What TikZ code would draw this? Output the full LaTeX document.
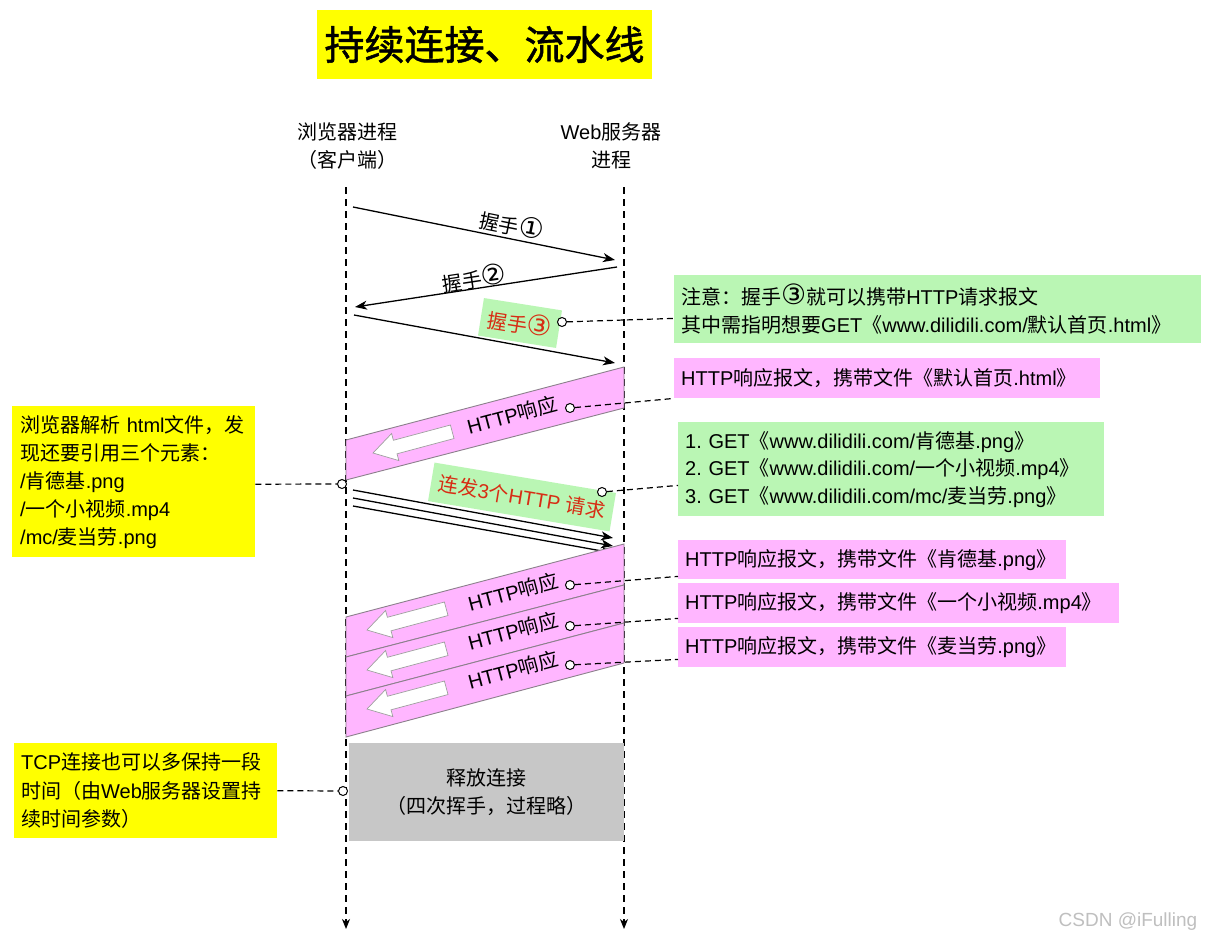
\documentclass[tikz,border=0pt]{standalone}
\usepackage{fontspec}
\setmainfont{Liberation Sans}
\newfontfamily\latinfont{Liberation Sans}
\newfontfamily\cjkfont{Noto Sans CJK SC}
\newfontfamily\cjkbold[FakeBold=1.3]{Noto Sans CJK SC}
\newfontfamily\circfont[Scale=1.4]{DejaVu Sans}
\usetikzlibrary{arrows.meta,calc}
\XeTeXinterchartokenstate=1
\newXeTeXintercharclass\CJKcls
\newXeTeXintercharclass\CIRcls
\newcount\cjkc
\def\setcjkrange#1#2#3{\cjkc=#1\relax\loop\ifnum\cjkc<#2\relax\XeTeXcharclass\cjkc=#3\advance\cjkc by 1\relax\repeat}
\setcjkrange{"2460}{"2500}{\CIRcls}
\setcjkrange{"3000}{"3040}{\CJKcls}
\setcjkrange{"4E00}{"A000}{\CJKcls}
\setcjkrange{"FF00}{"FFF0}{\CJKcls}
\XeTeXinterchartoks 0 \CJKcls = {\cjkfont}
\XeTeXinterchartoks 4095 \CJKcls = {\cjkfont}
\XeTeXinterchartoks \CJKcls 0 = {\latinfont}
\XeTeXinterchartoks 4095 0 = {\latinfont}
\XeTeXinterchartoks 0 \CIRcls = {\circfont}
\XeTeXinterchartoks 4095 \CIRcls = {\circfont}
\XeTeXinterchartoks \CJKcls \CIRcls = {\circfont}
\XeTeXinterchartoks \CIRcls \CJKcls = {\cjkfont}
\XeTeXinterchartoks \CIRcls 0 = {\latinfont}
\newcommand\fsz[2]{\fontsize{#1}{#2}\selectfont}
\definecolor{yellowc}{RGB}{255,255,0}
\definecolor{greenc}{RGB}{186,246,180}
\definecolor{pinkc}{RGB}{255,182,255}
\definecolor{bandline}{RGB}{140,128,140}
\definecolor{grayc}{RGB}{199,199,199}
\definecolor{redc}{RGB}{215,45,20}
\tikzset{
  life/.style={line width=1.4pt, dash pattern=on 7pt off 5pt, -{Stealth[length=10pt,width=8pt,inset=3pt]}},
  msg/.style={line width=1.3pt, -{Stealth[length=12pt,width=9pt,inset=3.5pt]}},
  lbl/.style={font=\fsz{20}{24}, inner sep=0},
  hdr/.style={font=\fsz{20}{28}, inner sep=0, align=center},
  redlbl/.style={fill=greenc, text=redc, font=\fsz{20}{24}, inner sep=0, minimum height=38pt},
  band/.style={fill=pinkc, draw=bandline, line width=0.9pt},
  wharrow/.style={fill=white, draw=gray!75, line width=0.7pt},
  dot/.style={circle, draw=black, fill=white, line width=1pt, minimum size=9pt, inner sep=0},
  lead/.style={line width=1.2pt, dash pattern=on 6pt off 4pt},
  notebox/.style={anchor=north west, inner xsep=7pt, inner ysep=0, align=left, font=\fsz{20}{27.5}},
}
\newcommand\wharr[1]{\begin{scope}[shift={#1}, rotate=15]
  \filldraw[wharrow] (0,0) -- (23,-14) -- (23,-7) -- (82,-7) -- (82,7) -- (23,7) -- (23,14) -- cycle;
\end{scope}}
\begin{document}
\begin{tikzpicture}[x=1pt,y=-1pt]
\useasboundingbox (0,0) rectangle (1211,942);
\fill[white] (0,0) rectangle (1211,942);

% title
\node[fill=yellowc, minimum width=335pt, minimum height=69pt, inner sep=0, font=\fsz{40}{48}] (title) at (484.5,44.5) {\XeTeXinterchartokenstate=0 \cjkbold 持续连接、流水线};

% headers
\node[hdr] (cli) at (347,146) {浏览器进程\\（客户端）};
\node[hdr] (srv) at (611,146) {Web服务器\\进程};

% lifelines
\coordinate (Ltop) at (346,187); \coordinate (Lbot) at (346,929);
\coordinate (Rtop) at (624,187); \coordinate (Rbot) at (624,929);
\draw[life] (Ltop) -- (Lbot);
\draw[life] (Rtop) -- (Rbot);

% handshake
\coordinate (a1s) at (353,207); \coordinate (a1e) at (615,260);
\coordinate (a2s) at (617,267); \coordinate (a2e) at (355,307);
\coordinate (a3s) at (354,315); \coordinate (a3e) at (615,363);
\draw[msg] (a1s) -- (a1e);
\draw[msg] (a2s) -- (a2e);
\draw[msg] (a3s) -- (a3e);
\node[lbl, rotate=-11.4] (h1) at (512,225) {握手①};
\node[lbl, rotate=8.7] (h2) at (474,278) {握手②};
\node[redlbl, minimum width=79pt, rotate=-9] (h3) at (520,323) {握手③};

% response band 1
\filldraw[band] (346,440) -- (624,367) -- (624,408) -- (346,480) -- cycle;
\wharr{(373,453)}
\node[lbl, rotate=14.8] (r1) at (512,415) {HTTP响应};

% three requests
\coordinate (q1s) at (353,490); \coordinate (q1e) at (613,538);
\coordinate (q2s) at (353,498); \coordinate (q2e) at (613,546);
\coordinate (q3s) at (353,506); \coordinate (q3e) at (613,553);
\draw[msg] (q1s) -- (q1e);
\draw[msg] (q2s) -- (q2e);
\draw[msg] (q3s) -- (q3e);
\node[redlbl, minimum width=184pt, minimum height=39pt, rotate=-9.5] (g2) at (522,497) {连发3个HTTP~请求};

% response bands 2-4
\filldraw[band] (346,617) -- (624,544) -- (624,585) -- (346,657) -- cycle;
\filldraw[band] (346,657) -- (624,585) -- (624,623) -- (346,696) -- cycle;
\filldraw[band] (346,696) -- (624,623) -- (624,663) -- (346,737) -- cycle;
\wharr{(367,630)}
\wharr{(367,670)}
\wharr{(367,709)}
\node[lbl, rotate=14.8] (r2) at (513,592) {HTTP响应};
\node[lbl, rotate=14.8] (r3) at (513,631) {HTTP响应};
\node[lbl, rotate=14.8] (r4) at (513,670) {HTTP响应};

% release box
\node[fill=grayc, anchor=north west, minimum width=275pt, minimum height=98pt, inner sep=0, align=center, font=\fsz{20}{28}] (rel) at (349,743) {释放连接\\（四次挥手，过程略）};

% notes
\node[notebox, fill=greenc, text width=513pt, minimum height=68pt] (N1) at (674,275) {注意：握手③就可以携带HTTP请求报文\\其中需指明想要GET《www.dilidili.com/默认首页.html》};
\node[notebox, fill=pinkc, text width=412pt, minimum height=40pt] (P1) at (674,358) {HTTP响应报文，携带文件《默认首页.html》};
\node[notebox, fill=greenc, text width=412pt, minimum height=94pt] (N2) at (678,422) {1.~GET《www.dilidili.com/肯德基.png》\\2.~GET《www.dilidili.com/一个小视频.mp4》\\3.~GET《www.dilidili.com/mc/麦当劳.png》};
\node[notebox, fill=pinkc, text width=374pt, minimum height=39pt] (P2) at (678,540) {HTTP响应报文，携带文件《肯德基.png》};
\node[notebox, fill=pinkc, text width=427pt, minimum height=40pt] (P3) at (678,583) {HTTP响应报文，携带文件《一个小视频.mp4》};
\node[notebox, fill=pinkc, text width=374pt, minimum height=40pt] (P4) at (678,627) {HTTP响应报文，携带文件《麦当劳.png》};
\node[notebox, fill=yellowc, inner xsep=8pt, text width=227pt, minimum height=151pt, font=\fsz{20}{28}] (Y1) at (12,406) {浏览器解析~html文件，发\\现还要引用三个元素：\\/肯德基.png\\/一个小视频.mp4\\/mc/麦当劳.png};
\node[notebox, fill=yellowc, text width=249pt, minimum height=95pt, font=\fsz{20}{28.5}] (Y2) at (14,743) {TCP连接也可以多保持一段\\时间（由Web服务器设置持\\续时间参数）};

% dots
\node[dot] (c3) at (562,322) {};
\node[dot] (cr1) at (570,408) {};
\node[dot] (cL) at (342,484) {};
\node[dot] (cg2) at (602,492) {};
\node[dot] (cr2) at (570,585) {};
\node[dot] (cr3) at (570,626) {};
\node[dot] (cr4) at (570,665) {};
\node[dot] (cT) at (343,791) {};

% leads
\draw[lead] (c3) -- ($(N1.south west)+(0,-25)$);
\draw[lead] (cr1) -- (P1.south west);
\draw[lead] (cg2) -- ($(N2.south west)+(0,-31)$);
\draw[lead] (cr2) -- ($(P2.south west)+(0,-3)$);
\draw[lead] (cr3) -- ($(P3.south west)+(0,-5)$);
\draw[lead] (cr4) -- ($(P4.south west)+(0,-8)$);
\draw[lead] ($(Y1.east)+(0,2.5)$) -- (cL);
\draw[lead] (Y2.east) -- (cT);

% watermark
\node[text=gray!50, font=\fsz{19}{22}, inner sep=0] (wm) at (1128,922) {CSDN @iFulling};
\end{tikzpicture}
\end{document}
